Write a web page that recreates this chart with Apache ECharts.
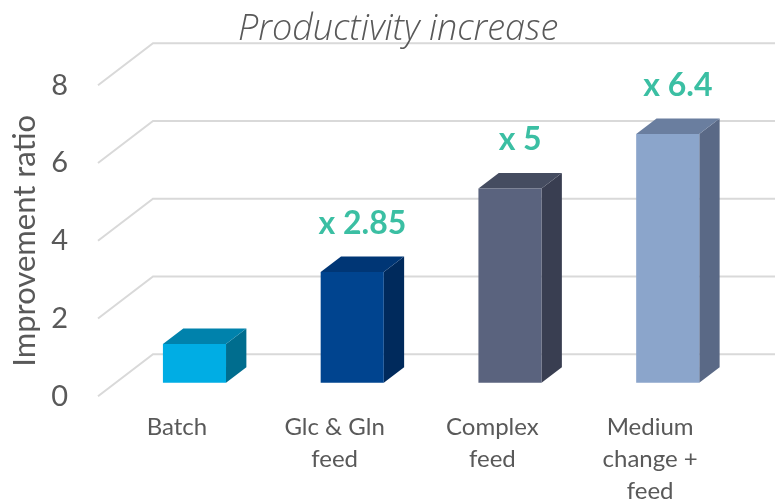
<!DOCTYPE html>
<html><head><meta charset="utf-8">
<script src="https://cdn.jsdelivr.net/npm/echarts@6/dist/echarts.min.js"></script>
<style>html,body{margin:0;padding:0;background:#fff}#c{width:775px;height:501px}</style>
</head><body><div id="c"></div>
<script>
const categories = ['Batch', 'Glc & Gln\nfeed', 'Complex\nfeed', 'Medium\nchange +\nfeed'];
const values = [1, 2.85, 5, 6.4];
const valueLabels = ['', 'x 2.85', 'x 5', 'x 6.4'];
const yTicks = [0, 2, 4, 6, 8];
const frontColors = ['#00ADE4', '#00448F', '#5A637E', '#8BA5CB'];
const topColors = ['#0082AC', '#003675', '#454C60', '#6A7E9F'];
const sideColors = ['#006D8E', '#002A5C', '#393E51', '#5A6986'];

// depth of the 3D floor: offset from back wall to front edge
const DX = -55, DY = 42;
const F_FRONT = 0.68, F_BACK = 0.31, BAR_W = 0.40;

const chart = echarts.init(document.getElementById('c'), null, {renderer: 'canvas'});
const txt = '#595959';
const font = 'Lato';

chart.setOption({
  animation: false,
  title: {
    text: 'Productivity increase', left: 233, top: 7,
    textStyle: {fontFamily: 'Open Sans', fontStyle: 'italic', fontWeight: 300, fontSize: 36, color: txt}
  },
  grid: {left: 98, top: 85.3, width: 631, height: 311, outerBoundsMode: 'none', containLabel: false},
  xAxis: {type: 'category', data: categories,
    axisLine: {show: false}, axisTick: {show: false},
    axisLabel: {margin: 15, fontFamily: font, fontSize: 24, color: txt, lineHeight: 32}},
  yAxis: {type: 'value', min: 0, max: 8, interval: 2,
    splitLine: {show: false}, axisLine: {show: false}, axisTick: {show: false},
    axisLabel: {margin: 30, fontFamily: font, fontSize: 29, color: txt},
    name: 'Improvement ratio', nameLocation: 'middle', nameGap: 58, nameRotate: 90,
    nameTextStyle: {fontFamily: font, fontSize: 31, color: txt}},
  series: [
    {
      type: 'custom', z: 1,
      data: yTicks.map(v => [0, v]),
      renderItem: function (params, api) {
        const cs = params.coordSys;
        const y = api.coord([0, api.value(1)])[1];
        return {
          type: 'polyline',
          shape: {points: [[cs.x, y], [cs.x - DX, y - DY], [cs.x + cs.width - DX, y - DY]]},
          style: {stroke: '#D9D9D9', lineWidth: 2, fill: null}
        };
      }
    },
    {
      type: 'custom', z: 2,
      data: values.map((v, i) => [i, v]),
      renderItem: function (params, api) {
        const i = api.value(0);
        const top = api.coord([i, api.value(1)]);
        const base = api.coord([i, 0]);
        const w = api.size([1, 0])[0] * BAR_W;
        // front-plane coords -> position at depth fraction f (0 = back wall, 1 = front edge)
        const ff = 1 - F_FRONT, fb = 1 - F_BACK;
        const fx = top[0] - DX * ff, fy = -DY * ff;
        const bx = top[0] - DX * fb, by = -DY * fb;
        const L = fx - w / 2, R = fx + w / 2, T = top[1] + fy, B = base[1] + fy;
        const bL = bx - w / 2, bR = bx + w / 2, bT = top[1] + by, bB = base[1] + by;
        const children = [
          {type: 'polygon', shape: {points: [[R, T], [bR, bT], [bR, bB], [R, B]]},
            style: {fill: sideColors[i]}},
          {type: 'polygon', shape: {points: [[L, T], [R, T], [bR, bT], [bL, bT]]},
            style: {fill: topColors[i]}},
          {type: 'rect', shape: {x: L, y: T, width: w, height: B - T},
            style: {fill: frontColors[i]}}
        ];
        if (valueLabels[i]) {
          children.push({
            type: 'text',
            style: {
              text: valueLabels[i], x: (L + bR) / 2, y: bT - 33,
              align: 'center', verticalAlign: 'middle',
              font: 'bold 32px ' + font, fill: '#3BBFA3'
            }
          });
        }
        return {type: 'group', children: children};
      }
    }
  ]
});
</script></body></html>
